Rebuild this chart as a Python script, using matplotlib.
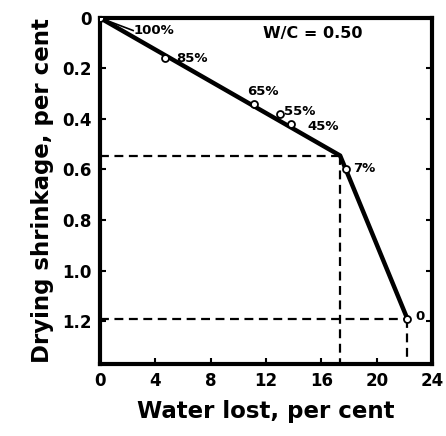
import matplotlib.pyplot as plt

plt.rcParams['font.family'] = 'DejaVu Sans'
plt.rcParams['font.weight'] = 'bold'

# measured points: water lost (%) vs drying shrinkage (%) at each RH
water_lost = [0.0, 4.7, 11.1, 13.0, 13.8, 17.75, 22.2]
shrinkage = [0.0, 0.16, 0.34, 0.38, 0.42, 0.60, 1.19]
rh_labels = ['100%', '85%', '65%', '55%', '45%', '7%', '0']

# two-segment trend line through the points
trend_x = [0.0, 17.35, 22.2]
trend_y = [0.0, 0.545, 1.19]

x_ticks = [0, 4, 8, 12, 16, 20, 24]
y_ticks = [0, 0.2, 0.4, 0.6, 0.8, 1.0, 1.2]
y_tick_labels = ['0', '0.2', '0.4', '0.6', '0.8', '1.0', '1.2']

fig = plt.figure(figsize=(4.46, 4.36), dpi=100)
ax = fig.add_axes([0.224, 0.165, 0.745, 0.794])

ax.plot(trend_x, trend_y, color='black', lw=3.2, solid_capstyle='round', zorder=3)
ax.plot(water_lost, shrinkage, 'o', ms=5, mfc='white', mec='black', mew=1.3, zorder=4)

# guide lines to the kink and to the oven-dry point
dash = dict(color='black', lw=1.6, ls=(0, (4, 2.5)), zorder=2)
ax.plot([0, trend_x[1]], [trend_y[1], trend_y[1]], **dash)
ax.plot([trend_x[1], trend_x[1]], [trend_y[1], 1.37], **dash)
ax.plot([0, water_lost[-1]], [shrinkage[-1], shrinkage[-1]], **dash)
ax.plot([water_lost[-1], water_lost[-1]], [shrinkage[-1], 1.37], **dash)

# RH labels beside each point
offsets = [(2.4, 0.05), (5.5, 0.16), (10.6, 0.29), (13.3, 0.37), (15.0, 0.43),
           (18.3, 0.595), (22.8, 1.18)]
for lbl, (tx, ty) in zip(rh_labels, offsets):
    ax.text(tx, ty, lbl, fontsize=9.5, fontweight='bold', ha='left', va='center',
            zorder=5)
ax.plot([0, 2.4], [0, 0.05], color='black', lw=1.2, zorder=3)

ax.text(15.4, 0.06, 'W/C = 0.50', fontsize=11.5, fontweight='bold',
        ha='center', va='center')

ax.set_xlim(0, 24)
ax.set_ylim(1.37, 0)
ax.set_xticks(x_ticks)
ax.set_yticks(y_ticks)
ax.set_yticklabels(y_tick_labels)
ax.tick_params(direction='in', length=4, width=1.5, labelsize=12, pad=6,
               right=True)
for lab in ax.get_xticklabels() + ax.get_yticklabels():
    lab.set_fontweight('bold')
for sp in ax.spines.values():
    sp.set_linewidth(3)

ax.set_xlabel('Water lost, per cent', fontsize=16.5, fontweight='bold',
              labelpad=7)
ax.set_ylabel('Drying shrinkage, per cent', fontsize=16.5, fontweight='bold',
              labelpad=6)

fig.savefig('out.png', dpi=100)
